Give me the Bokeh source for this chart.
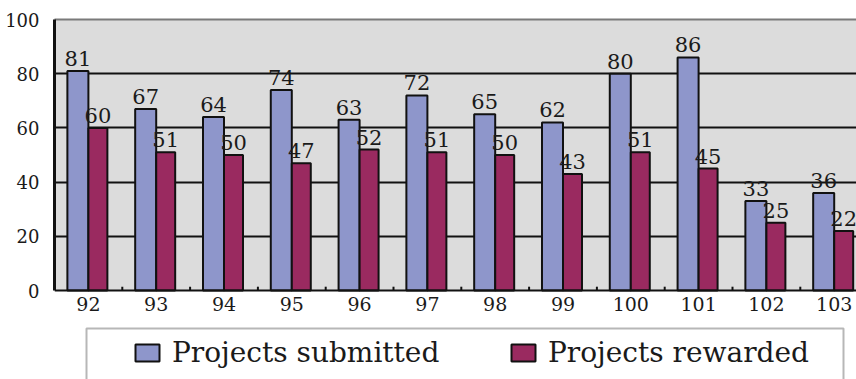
import numpy as np
from bokeh.plotting import figure
from bokeh.models import (Range1d, FixedTicker, LinearAxis, Legend, LegendItem,
                          BoxAnnotation, ColumnDataSource, Span)
from bokeh.core.properties import value
from bokeh.embed import file_html
from bokeh.resources import INLINE

years = ["92", "93", "94", "95", "96", "97", "98", "99", "100", "101", "102", "103"]
submitted = [81, 67, 64, 74, 63, 72, 65, 62, 80, 86, 33, 36]
rewarded = [60, 51, 50, 47, 52, 51, 50, 43, 51, 45, 25, 22]
y_ticks = [0, 20, 40, 60, 80, 100]

FONT = "DejaVu Serif"
BLUE = "#8e96cb"
RED = "#9a2a60"
INK = "#1a1a1a"

n = len(years)
centers = np.arange(n) + 0.5
src_s = ColumnDataSource(dict(x=centers - 0.155, top=submitted, lab=[str(v) for v in submitted]))
src_r = ColumnDataSource(dict(x=centers + 0.14, top=rewarded, lab=[str(v) for v in rewarded]))
src_x = ColumnDataSource(dict(x=centers, y=[0] * n, lab=years))

# frame runs from y=19 (value 100) to the bottom of the page; value 0 sits at y=290
px_per_unit = 271 / 100
p = figure(width=856, height=379, output_backend="svg", toolbar_location=None,
           x_range=Range1d(0, 802 / 67.8), y_range=Range1d(-(379 - 290) / px_per_unit, 100),
           min_border_left=54, min_border_right=0, min_border_top=19, min_border_bottom=0,
           background_fill_color="white", border_fill_color="white",
           outline_line_color=None, x_axis_location=None)

# grey plot area (0..100)
p.add_layout(BoxAnnotation(bottom=0, top=100, fill_color="#dcdcdc", fill_alpha=1,
                           line_color=None, level="image"))

r1 = p.vbar(x="x", top="top", width=0.31, source=src_s, fill_color=BLUE,
            line_color="#111111", line_width=2)
r2 = p.vbar(x="x", top="top", width=0.28, source=src_r, fill_color=RED,
            line_color="#111111", line_width=2)

for src in (src_s, src_r):
    p.text(x="x", y="top", text="lab", source=src, text_align="center",
           text_baseline="bottom", y_offset=-5, text_font=value(FONT),
           text_font_size="21px", text_color=INK)

# grid
p.xgrid.grid_line_color = None
p.ygrid.ticker = FixedTicker(ticks=y_ticks[1:-1])
p.ygrid.grid_line_color = "#111111"
p.ygrid.grid_line_width = 2

# y axis
ya = p.yaxis[0]
ya.ticker = FixedTicker(ticks=y_ticks)
ya.bounds = (0, 100)
ya.axis_line_color = "#111111"
ya.axis_line_width = 3
ya.major_tick_line_color = None
ya.minor_tick_line_color = None
ya.major_label_standoff = 9
ya.major_label_text_font = FONT
ya.major_label_text_font_size = "18px"
ya.major_label_text_color = INK

# x axis (drawn inside the frame)
p.add_layout(Span(location=0, dimension="width", line_color="#111111", line_width=2))
bounds = np.arange(1, n)
p.segment(x0=bounds, y0=[0] * len(bounds), x1=bounds, y1=[1.4] * len(bounds),
          line_color="#111111", line_width=2)
p.text(x="x", y="y", text="lab", source=src_x, text_align="center",
       text_baseline="top", y_offset=6, text_font=value(FONT),
       text_font_size="19px", text_color=INK)

# top border line
ta = LinearAxis(ticker=FixedTicker(ticks=[]), axis_line_color="#7a7a7a", axis_line_width=2,
                major_tick_line_color=None, minor_tick_line_color=None,
                major_label_text_font_size="0px")
p.add_layout(ta, "above")

# legend box (runs past the bottom edge, as in the reference)
p.add_layout(BoxAnnotation(left=86, right=843, top=328, bottom=420,
                           left_units="canvas", right_units="canvas",
                           top_units="canvas", bottom_units="canvas",
                           fill_color="white", fill_alpha=1, line_color="#111111",
                           line_width=2, level="annotation"))

legend = Legend(items=[LegendItem(label="Projects submitted", renderers=[r1]),
                       LegendItem(label="Projects rewarded", renderers=[r2])],
                orientation="horizontal", location=(78, 10), padding=0, margin=0,
                glyph_width=30, glyph_height=21, label_standoff=10, label_width=310,
                spacing=26, label_text_font=FONT, label_text_font_size="28px",
                label_text_color=INK, border_line_color=None,
                background_fill_alpha=0)
p.add_layout(legend, "center")

open("out.html", "w").write(file_html(p, INLINE))
